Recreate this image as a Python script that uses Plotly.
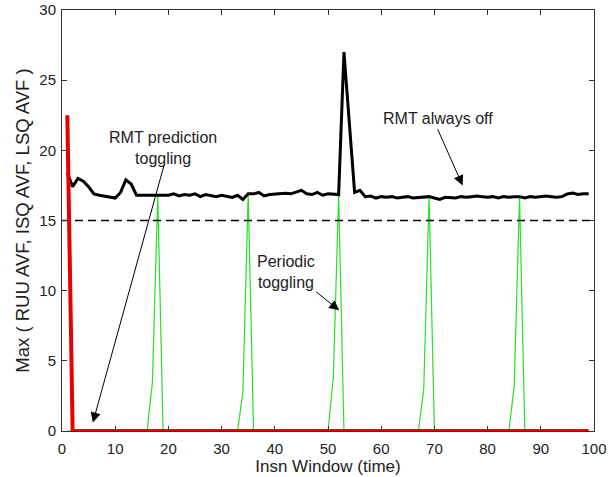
import plotly.graph_objects as go

# Instruction windows 1..99
windows = list(range(1, 100))

# Max AVF with RMT always off
always_off = [
    18.4, 17.4, 18.0, 17.8, 17.4, 16.9, 16.8, 16.75, 16.7, 16.6,
    17.0, 17.9, 17.6, 16.8, 16.8, 16.8, 16.8, 16.8, 16.85, 16.8,
    16.9, 16.75, 16.85, 16.8, 16.9, 16.7, 16.85, 16.8, 16.7, 16.8,
    16.75, 16.65, 16.8, 16.5, 16.9, 16.9, 17.0, 16.75, 16.85, 16.9,
    16.95, 16.95, 16.9, 17.0, 17.15, 16.9, 16.85, 17.0, 16.8, 16.9,
    16.85, 16.85, 27.0, 21.9, 17.0, 17.15, 16.7, 16.75, 16.6, 16.7,
    16.65, 16.7, 16.6, 16.65, 16.7, 16.6, 16.65, 16.7, 16.7, 16.6,
    16.5, 16.65, 16.6, 16.6, 16.7, 16.65, 16.7, 16.75, 16.7, 16.65,
    16.7, 16.6, 16.7, 16.65, 16.7, 16.7, 16.6, 16.7, 16.65, 16.7,
    16.75, 16.7, 16.65, 16.7, 16.9, 16.95, 16.85, 16.9, 16.9,
]

# Max AVF with periodic toggling
periodic = [0.0] * 99
for peak, ramp in [(18, 3.5), (35, 2.8), (52, 3.8), (69, 3.0), (86, 3.2)]:
    periodic[peak - 2] = ramp
    periodic[peak - 1] = always_off[peak - 1]

# Max AVF with RMT prediction toggling
prediction = [22.5] + [0.0] * 98

threshold_x = [0, 100]
threshold_y = [15, 15]

x_ticks = list(range(0, 101, 10))
y_ticks = list(range(0, 31, 5))

FONT = "Liberation Sans, Arial, Helvetica, sans-serif"

fig = go.Figure()
fig.add_trace(go.Scatter(x=windows, y=periodic, mode="lines",
                         line=dict(color="rgb(40,225,40)", width=1.2)))
fig.add_trace(go.Scatter(x=threshold_x, y=threshold_y, mode="lines",
                         line=dict(color="black", width=1.3, dash="8px,5px")))
fig.add_trace(go.Scatter(x=windows, y=always_off, mode="lines",
                         line=dict(color="black", width=3)))
fig.add_trace(go.Scatter(x=windows, y=prediction, mode="lines",
                         line=dict(color="rgb(235,0,0)", width=4)))

arrow = dict(xref="x", yref="y", axref="x", ayref="y", showarrow=True,
             arrowhead=2, arrowsize=2, arrowwidth=1, arrowcolor="black",
             text="")
fig.add_annotation(x=5.8, y=0.6, ax=19.3, ay=19.1, **arrow)
fig.add_annotation(x=75.3, y=17.5, ax=70.5, ay=21.6, **arrow)
fig.add_annotation(x=52.1, y=8.6, ax=47.5, ay=10.0, **arrow)

label = dict(xref="x", yref="y", showarrow=False,
             font=dict(family=FONT, size=16, color="#222"))
fig.add_annotation(x=18.9, y=20.15, text="RMT prediction<br>toggling", **label)
fig.add_annotation(x=70.6, y=22.3, text="RMT always off", **label)
fig.add_annotation(x=42.1, y=11.3, text="Periodic<br>toggling", **label)

axis_common = dict(showline=True, linecolor="#333", linewidth=1, mirror="ticks",
                   ticks="inside", ticklen=5, tickcolor="#333", showgrid=False,
                   zeroline=False, automargin=False,
                   tickfont=dict(family=FONT, size=15, color="#222"))

fig.update_layout(
    width=616, height=477,
    margin=dict(l=62, r=22, t=10, b=46),
    paper_bgcolor="white", plot_bgcolor="white",
    showlegend=False,
    xaxis=dict(range=[0, 100], tickvals=x_ticks, ticklabelstandoff=4,
               title=dict(text="Insn Window (time)", standoff=4,
                          font=dict(family=FONT, size=17, color="#222")),
               **axis_common),
    yaxis=dict(range=[0, 30], tickvals=y_ticks, ticklabelstandoff=2,
               title=dict(text="Max ( RUU AVF, ISQ AVF, LSQ AVF )", standoff=4,
                          font=dict(family=FONT, size=18.5, color="#222")),
               **axis_common),
)

fig.write_html("out.html")
